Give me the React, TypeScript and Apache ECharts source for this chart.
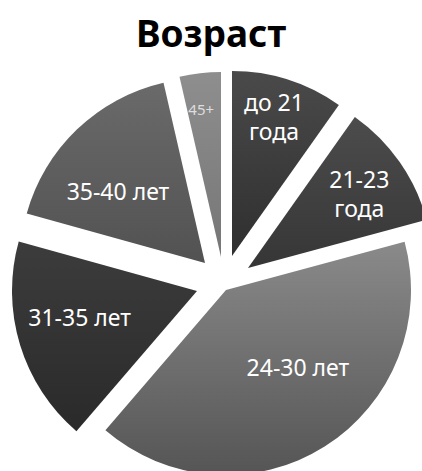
import React, { useEffect, useRef } from "react";
import * as echarts from "echarts";

// ---- data ----
const title = "Возраст";
const categories = ["до 21\nгода", "21-23\nгода", "24-30 лет", "31-35 лет", "35-40 лет", "45+"];
const values = [9.8, 11, 40.5, 18, 17.1, 3.6];

// ---- layout / style (not data) ----
const baseCenter = [218, 273];
const sliceShift = [
  [14, -17],
  [30, -5],
  [8, 17],
  [-21, 18],
  [-13, -10],
  [3, -16],
];
const labelShift = [
  [13, -48],
  [33, -20],
  [21, -4],
  [-26, -2],
  [-21, -3],
  [-9, -53],
];
const sliceColors = [
  ["#4a4a4a", "#2f2f2f"],
  ["#4c4c4c", "#363636"],
  ["#8a8a8a", "#555555"],
  ["#3c3c3c", "#2a2a2a"],
  ["#6a6a6a", "#525252"],
  ["#8e8e8e", "#767676"],
];

export default function App() {
  const ref = useRef<HTMLDivElement>(null);
  useEffect(() => {
    if (!ref.current) return;
    const chart = echarts.init(ref.current, null, { renderer: "svg" });
    const total = values.reduce((a, b) => a + b, 0);
    let cum = 0;
    const series = values.map((v, i) => {
      const start = 90 - (cum / total) * 360;
      cum += v;
      const small = i === 5;
      return {
        type: "pie",
        silent: true,
        radius: [0, 185],
        center: [baseCenter[0] + sliceShift[i][0], baseCenter[1] + sliceShift[i][1]],
        startAngle: start,
        clockwise: true,
        avoidLabelOverlap: false,
        labelLine: { show: false },
        emphasis: { disabled: true },
        labelLayout: { dx: labelShift[i][0], dy: labelShift[i][1] },
        data: [
          {
            value: v,
            name: categories[i],
            itemStyle: {
              color: {
                type: "linear",
                x: 0,
                y: 0,
                x2: 0,
                y2: 1,
                colorStops: [
                  { offset: 0, color: sliceColors[i][0] },
                  { offset: 1, color: sliceColors[i][1] },
                ],
              },
            },
            label: {
              show: true,
              position: "inside",
              formatter: "{b}",
              color: small ? "#dddddd" : "#ffffff",
              fontFamily: "Noto Sans",
              fontSize: small ? 15 : 23,
              lineHeight: 29,
              align: "center",
            },
          },
          {
            value: total - v,
            name: "",
            itemStyle: { color: "rgba(0,0,0,0)" },
            label: { show: false },
          },
        ],
      };
    });
    chart.setOption({
      animation: false,
      backgroundColor: "#ffffff",
      title: {
        text: title,
        left: "center",
        top: 9,
        textStyle: {
          fontFamily: "Noto Sans",
          fontWeight: "bold",
          fontSize: 37,
          color: "#000000",
        },
      },
      series,
    });
    return () => chart.dispose();
  }, []);
  return (
    <div
      ref={ref}
      style={{ position: "fixed", left: 0, top: 0, width: 422, height: 471 }}
    />
  );
}
